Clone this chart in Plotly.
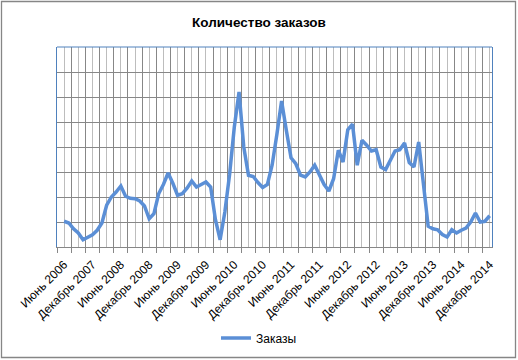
import plotly.graph_objects as go

# ---- data ----
series_name = "Заказы"
tick_labels = ["Июнь 2006", "Декабрь 2007", "Июнь 2008", "Декабрь 2008",
               "Июнь 2009", "Декабрь 2009", "Июнь 2010", "Декабрь 2010",
               "Июнь 2011", "Декабрь 2011", "Июнь 2012", "Декабрь 2012",
               "Июнь 2013", "Декабрь 2013", "Июнь 2014", "Декабрь 2014"]
orders = [103, 96, 73, 56, 29, 40, 49, 67, 96, 167,
          200, 220, 244, 203, 195, 193, 184, 164, 113, 133,
          213, 250, 296, 255, 207, 213, 235, 264, 240, 250,
          260, 240, 110, 29, 140, 290, 480, 620, 400, 287,
          282, 258, 238, 250, 328, 450, 584, 467, 357, 333,
          287, 280, 300, 327, 290, 250, 224, 273, 387, 340,
          469, 491, 327, 427, 407, 384, 389, 320, 310, 347,
          384, 389, 416, 338, 320, 420, 250, 83, 73, 69,
          50, 40, 69, 56, 67, 76, 100, 136, 100, 103, 125]

x = list(range(len(orders)))
label_step = 6
tickvals = x[::label_step]
xr = [-1.5, len(orders) - 0.5]
major_grid = [v - 1.5 for v in range(0, len(orders) + 1, 3)]
minor_grid = list(range(0, len(orders), 3))

W, H = 518, 360
L, R, T, B = 57, 26, 47, 113
pw, ph = W - L - R, H - T - B

def px_x(p):
    return (p - L) / pw

def px_y(p):
    return (H - B - p) / ph

FONT = "Liberation Sans"
BLUE_LINE = "#5B8FD6"
BORDER_BLUE = "#4F81BD"
GRID_DARK = "#878787"
GRID_LIGHT = "#BDBDBD"

fig = go.Figure()
fig.add_trace(go.Scatter(x=x, y=orders, mode="lines", name=series_name,
                         line=dict(color=BLUE_LINE, width=3.5)))
fig.add_trace(go.Scatter(x=[None], y=[None], xaxis="x2", showlegend=False,
                         hoverinfo="skip"))

fig.update_layout(
    width=W, height=H,
    margin=dict(l=L, r=R, t=T, b=B, autoexpand=False),
    paper_bgcolor="white", plot_bgcolor="white",
    title=dict(text="Количество заказов", x=0.5, xref="container", xanchor="center",
               y=1 - 22 / H, yanchor="middle", automargin=False,
               font=dict(family=FONT, size=13.5, color="#000", weight="bold")),
    xaxis=dict(range=xr, tickmode="array", tickvals=tickvals, ticktext=tick_labels,
               tickangle=-45, ticks="", showgrid=False, zeroline=False,
               automargin=False, ticklabelstandoff=5,
               showline=True, linecolor=GRID_DARK, linewidth=1,
               tickfont=dict(family=FONT, size=12, color="#000")),
    xaxis2=dict(range=xr, overlaying="x", anchor="y", side="bottom",
                tickmode="array", tickvals=major_grid, showticklabels=False,
                ticks="outside", ticklen=5, tickcolor=GRID_DARK, automargin=False,
                showgrid=True, gridcolor=GRID_DARK, gridwidth=1, zeroline=False,
                minor=dict(tickmode="array", tickvals=minor_grid, showgrid=True,
                           gridcolor=GRID_LIGHT, gridwidth=1, ticks="")),
    yaxis=dict(range=[0, 800], dtick=100, showticklabels=False, ticks="",
               automargin=False,
               showgrid=True, gridcolor=GRID_DARK, gridwidth=1, zeroline=False,
               showline=True, linecolor=BORDER_BLUE, linewidth=1, mirror=True),
    showlegend=True,
    legend=dict(orientation="h", x=px_x(259), xanchor="center",
                y=px_y(338), yanchor="middle",
                font=dict(family=FONT, size=12, color="#000"),
                bgcolor="rgba(0,0,0,0)"),
    shapes=[
        dict(type="line", xref="paper", yref="paper", x0=0, x1=1, y0=1, y1=1,
             line=dict(color=BORDER_BLUE, width=1)),
        dict(type="rect", xref="paper", yref="paper",
             x0=px_x(1.5), x1=px_x(W - 2.5), y0=px_y(H - 2.5), y1=px_y(1.5),
             line=dict(color="#868686", width=1.3), fillcolor="rgba(0,0,0,0)",
             layer="below"),
    ],
)

fig.write_html("out.html", config={"displayModeBar": False},
               post_script="document.body.style.margin='0';document.body.style.padding='0';")
